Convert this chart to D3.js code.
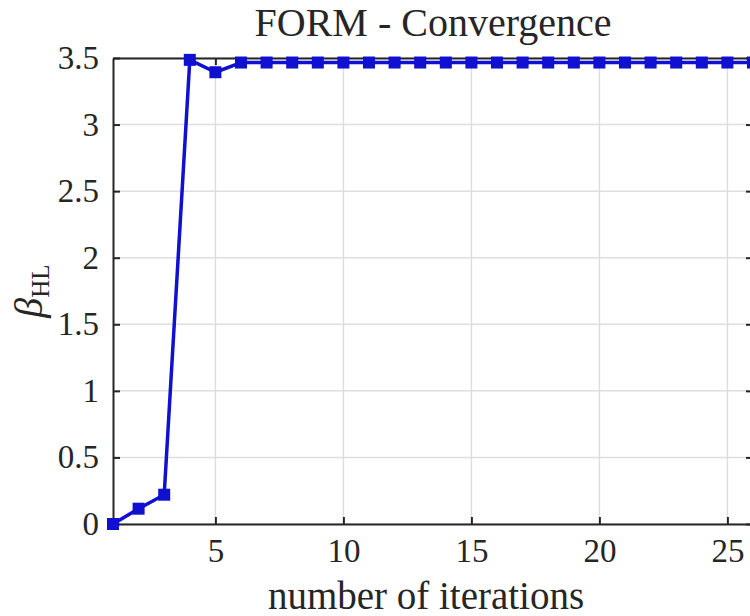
<!DOCTYPE html>
<html>
<head>
<meta charset="utf-8">
<script src="https://cdn.jsdelivr.net/npm/d3@7"></script>
<style>
  html, body { margin: 0; padding: 0; background: #fff; }
  svg { display: block; }
  text { font-family: "Liberation Serif", "DejaVu Serif", serif; fill: #262626; }
</style>
</head>
<body>
<script>
// Reliability index per FORM iteration
const iterations = [1, 2, 3, 4, 5, 6, 7, 8, 9, 10, 11, 12, 13, 14, 15, 16, 17, 18, 19, 20, 21, 22, 23, 24, 25, 26];
const betaHL = [0, 0.115, 0.22, 3.486, 3.393, 3.466, 3.466, 3.466, 3.466, 3.466, 3.466, 3.466, 3.466,
                3.466, 3.466, 3.466, 3.466, 3.466, 3.466, 3.466, 3.466, 3.466, 3.466, 3.466, 3.466, 3.466];
const xTicks = [5, 10, 15, 20, 25];
const yTicks = [0, 0.5, 1, 1.5, 2, 2.5, 3, 3.5];

const W = 750, H = 616;
const m = { left: 113, right: 753, top: 58, bottom: 524 };

const svg = d3.select("body").append("svg").attr("width", W).attr("height", H);

const x = d3.scaleLinear().domain([1, 26]).range([m.left, m.right]);
const y = d3.scaleLinear().domain([0, 3.5]).range([m.bottom, m.top]);

// grid
const grid = svg.append("g").attr("stroke", "#dedede").attr("stroke-width", 1.5);
grid.selectAll(".gx").data(xTicks).join("line")
  .attr("x1", d => x(d)).attr("x2", d => x(d))
  .attr("y1", m.top).attr("y2", m.bottom);
grid.selectAll(".gy").data(yTicks).join("line")
  .attr("x1", m.left).attr("x2", m.right)
  .attr("y1", d => y(d)).attr("y2", d => y(d));

// axes (ticks point inward, box on all sides)
const tickLen = 7;
const axStyle = g => {
  g.select(".domain").attr("stroke", "#262626").attr("stroke-width", 2);
  g.selectAll(".tick line").attr("stroke", "#262626").attr("stroke-width", 2);
  g.selectAll(".tick text").style("font-size", "33px").attr("fill", "#262626");
};

svg.append("g").attr("transform", `translate(0,${m.bottom})`)
  .call(d3.axisBottom(x).tickValues(xTicks).tickSizeInner(-tickLen).tickSizeOuter(0).tickPadding(15).tickFormat(d3.format("d")))
  .call(axStyle);

svg.append("g").attr("transform", `translate(${m.left},0)`)
  .call(d3.axisLeft(y).tickValues(yTicks).tickSizeInner(-tickLen).tickSizeOuter(0).tickPadding(14).tickFormat(d => d3.format("")(d)))
  .call(axStyle);

svg.append("g").attr("transform", `translate(0,${m.top})`)
  .call(d3.axisTop(x).tickValues(xTicks).tickSizeInner(-tickLen).tickSizeOuter(0).tickFormat(""))
  .call(axStyle);

svg.append("g").attr("transform", `translate(${m.right},0)`)
  .call(d3.axisRight(y).tickValues(yTicks).tickSizeInner(-tickLen).tickSizeOuter(0).tickFormat(""))
  .call(axStyle);

svg.selectAll("g text").attr("font-family", null);

// series
const pts = iterations.map((it, i) => ({ it, b: betaHL[i] }));
const blue = "#1010d0";
svg.append("path").datum(pts)
  .attr("fill", "none").attr("stroke", blue).attr("stroke-width", 3.5)
  .attr("stroke-linejoin", "round")
  .attr("d", d3.line().x(d => x(d.it)).y(d => y(d.b)));

const sq = 12;
svg.append("g").selectAll("rect").data(pts).join("rect")
  .attr("x", d => x(d.it) - sq / 2).attr("y", d => y(d.b) - sq / 2)
  .attr("width", sq).attr("height", sq)
  .attr("fill", blue);

// title and axis labels
svg.append("text").attr("x", (m.left + m.right) / 2).attr("y", 36)
  .attr("text-anchor", "middle").style("font-size", "40px")
  .text("FORM - Convergence");

svg.append("text").attr("x", 426).attr("y", 609)
  .attr("text-anchor", "middle").style("font-size", "39px")
  .text("number of iterations");

const yl = svg.append("text")
  .attr("transform", `translate(42,${(m.top + m.bottom) / 2}) rotate(-90)`)
  .attr("text-anchor", "middle").style("font-size", "40px");
yl.append("tspan").style("font-style", "italic").text("β");
yl.append("tspan").attr("dy", 7).style("font-size", "25px").text("HL");
</script>
</body>
</html>
